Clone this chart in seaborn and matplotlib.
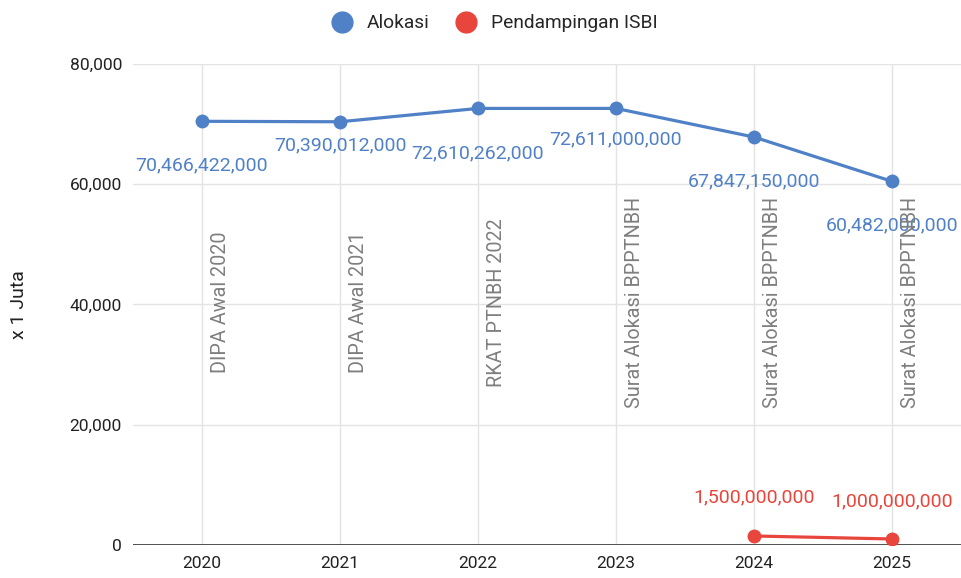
import matplotlib.pyplot as plt
import seaborn as sns
import pandas as pd
from matplotlib.lines import Line2D

# data (values in millions of rupiah, "x 1 Juta")
years = [2020, 2021, 2022, 2023, 2024, 2025]
alokasi = [70466.422, 70390.012, 72610.262, 72611.0, 67847.15, 60482.0]
pend_years = [2024, 2025]
pendampingan = [1500.0, 1000.0]
sumber = ['DIPA Awal 2020', 'DIPA Awal 2021', 'RKAT PTNBH 2022',
          'Surat Alokasi BPPTNBH', 'Surat Alokasi BPPTNBH', 'Surat Alokasi BPPTNBH']

# label offsets in points (placement only)
alok_off = [-32, -17, -32, -22, -32, -32]
pend_off = [28, 27]

BLUE = '#5081c7'
RED = '#e8453c'

sns.set_theme(style='whitegrid')
plt.rcParams['font.family'] = ['Roboto', 'DejaVu Sans']

df_a = pd.DataFrame({'year': years, 'value': alokasi})
df_p = pd.DataFrame({'year': pend_years, 'value': pendampingan})

fig = plt.figure(figsize=(9.61, 5.78), dpi=100)
ax = fig.add_axes([0.1384, 0.0571, 0.8616, 0.8322])

sns.lineplot(data=df_a, x='year', y='value', ax=ax, color=BLUE, marker='o',
             markersize=10, markeredgewidth=0, linewidth=2.3, zorder=3)
sns.lineplot(data=df_p, x='year', y='value', ax=ax, color=RED, marker='o',
             markersize=10, markeredgewidth=0, linewidth=2.3, zorder=3)

for x, v, off in zip(years, alokasi, alok_off):
    ax.annotate(f'{v * 1e6:,.0f}', (x, v), xytext=(0, off), textcoords='offset points',
                ha='center', va='center', color=BLUE, fontsize=14, zorder=4)
for x, v, off in zip(pend_years, pendampingan, pend_off):
    ax.annotate(f'{v * 1e6:,.0f}', (x, v), xytext=(0, off), textcoords='offset points',
                ha='center', va='center', color=RED, fontsize=14, zorder=4)

for x, s in zip(years, sumber):
    ax.annotate(s, (x, 40300), xytext=(13, 0), textcoords='offset points',
                rotation=90, ha='center', va='center', color='#7f7f7f',
                fontsize=14.3, zorder=5)

ax.set_xlim(2019.5, 2025.5)
ax.set_ylim(0, 80000)
ax.set_xticks(years)
ax.set_xticklabels([str(y) for y in years])
ax.set_yticks([0, 20000, 40000, 60000, 80000])
ax.set_yticklabels(['0', '20,000', '40,000', '60,000', '80,000'])
ax.tick_params(axis='both', labelsize=12.5, colors='#222222', length=0, pad=8)
ax.set_xlabel('')
ax.set_ylabel('x 1 Juta', fontsize=14, color='#222222', labelpad=30)

ax.grid(True, color='#e3e3e3', linewidth=1)
for s in ax.spines.values():
    s.set_visible(False)
ax.axhline(0, color='#333333', linewidth=1.2, zorder=2)
ax.set_facecolor('white')

handles = [Line2D([], [], marker='o', linestyle='', color=BLUE, markersize=15),
           Line2D([], [], marker='o', linestyle='', color=RED, markersize=15)]
fig.legend(handles, ['Alokasi', 'Pendampingan ISBI'], loc='upper center',
           bbox_to_anchor=(0.51, 1.005), ncol=2, frameon=False, fontsize=13.8,
           handletextpad=0.3, columnspacing=0.9)

fig.savefig('out.png', dpi=100)
